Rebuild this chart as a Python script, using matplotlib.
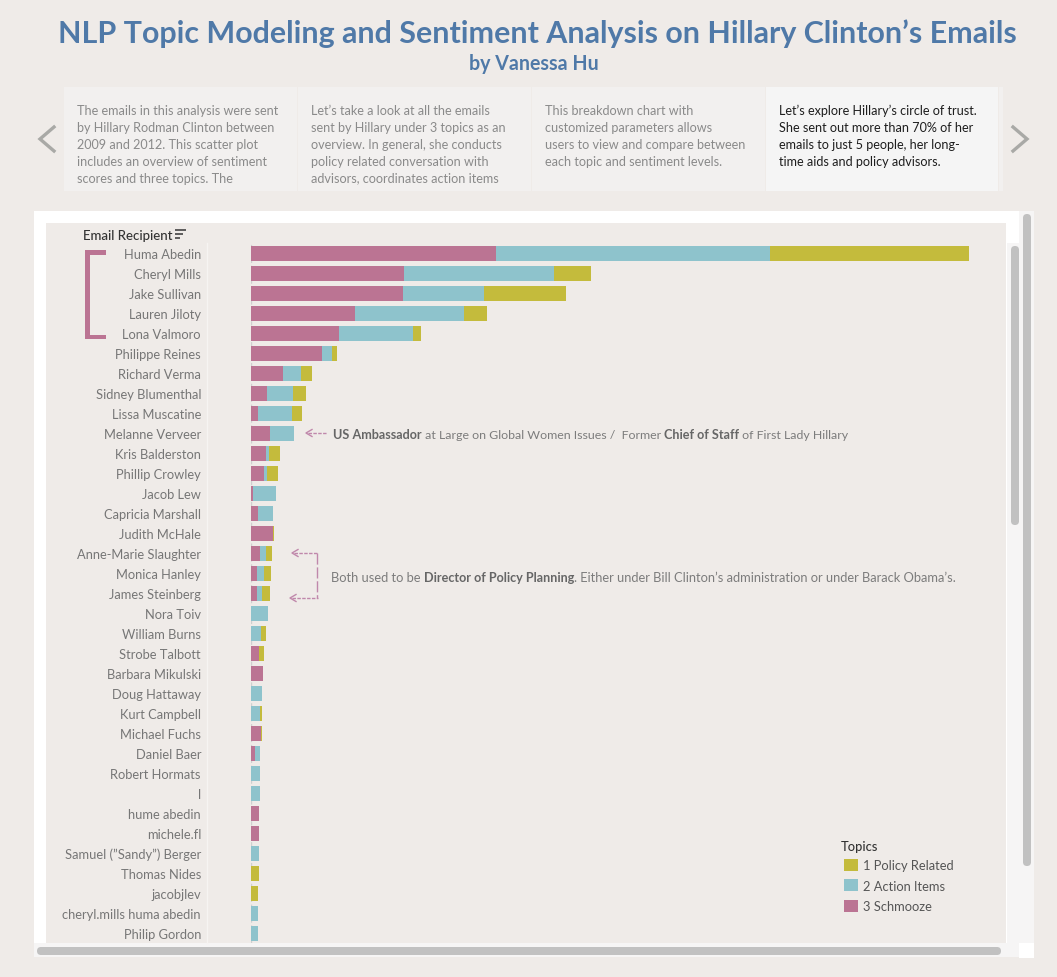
import matplotlib
matplotlib.use("Agg")
import matplotlib.pyplot as plt
from matplotlib.patches import Rectangle, FancyBboxPatch, Patch
from matplotlib.transforms import ScaledTranslation
import numpy as np

recipients = ["Huma Abedin","Cheryl Mills","Jake Sullivan","Lauren Jiloty","Lona Valmoro","Philippe Reines",
 "Richard Verma","Sidney Blumenthal","Lissa Muscatine","Melanne Verveer","Kris Balderston","Phillip Crowley",
 "Jacob Lew","Capricia Marshall","Judith McHale","Anne-Marie Slaughter","Monica Hanley","James Steinberg",
 "Nora Toiv","William Burns","Strobe Talbott","Barbara Mikulski","Doug Hattaway","Kurt Campbell","Michael Fuchs",
 "Daniel Baer","Robert Hormats","l","hume abedin","michele.fl","Samuel (\u201dSandy\u201d) Berger","Thomas Nides",
 "jacobjlev","cheryl.mills huma abedin","Philip Gordon"]
schmooze = [245,153,152,104,88,71,32,16,7,19,15,13,2,7,22,9,6,6,0,0,8,12,0,0,10,4,0,0,8,8,0,0,0,0,0]
action   = [274,150,81,109,74,10,18,26,34,24,3,3,22.5,15,0,6,7,5,16.5,10,0,0,11,9,0,5,9,9,0,0,8,0,0,7,7]
policy   = [199,37,82,23,8,5,11,13,10,0,11,11,0.5,0,1,6,7,8,0.5,5,5,0,0,2,1,0,0,0,0,0,0,8,7,0,0]
topics = ["1 Policy Related","2 Action Items","3 Schmooze"]
title = "NLP Topic Modeling and Sentiment Analysis on Hillary Clinton\u2019s Emails"
subtitle = "by Vanessa Hu"
cards = [
 ["The emails in this analysis were sent","by Hillary Rodman Clinton between","2009 and 2012. This scatter plot","includes an overview of sentiment","scores and three topics. The"],
 ["Let\u2019s take a look at all the emails","sent by Hillary under 3 topics as an","overview. In general, she conducts","policy related conversation with","advisors, coordinates action items"],
 ["This breakdown chart with","customized parameters allows","users to view and compare between","each topic and sentiment levels."],
 ["Let\u2019s explore Hillary\u2019s circle of trust.","She sent out more than 70% of her","emails to just 5 people, her long-","time aids and policy advisors."],
]
note1 = [("US Ambassador",True),(" at Large on Global Women Issues /  Former ",False),("Chief of Staff",True),(" of First Lady Hillary",False)]
note2 = [("Both used to be ",False),("Director of Policy Planning",True),(". Either under Bill Clinton\u2019s administration or under Barack Obama\u2019s.",False)]

BG="#EFEBE8"; PINK="#BB7493"; TEAL="#8EC3CC"; OLIVE="#C4BB3C"; GREY="#767676"; DARK="#333333"; SCROLL="#C1C1C1"; TRACK="#F6F5F5"; ANN="#C088AB"
FONT="Lato"
plt.rcParams['font.family']=[FONT,'DejaVu Sans']
LABEL_FS=9.25

fig=plt.figure(figsize=(10.57,9.78),dpi=100,facecolor=BG)
bg=fig.add_axes([0,0,1,1]); bg.set_xlim(0,1057); bg.set_ylim(978,0); bg.axis("off")

def box(x0,y0,x1,y1,c,z=1):
    bg.add_patch(Rectangle((x0,y0),x1-x0,y1-y0,fc=c,ec="none",zorder=z))
def pill(x0,y0,x1,y1,c=SCROLL):
    r=min(x1-x0,y1-y0)/2
    bg.add_patch(FancyBboxPatch((x0+r,y0+r),x1-x0-2*r,y1-y0-2*r,boxstyle=f"round,pad={r}",fc=c,ec="none",zorder=4))

bg.text(537,43,title,ha="center",va="baseline",fontsize=21.87,fontweight="bold",color="#4F79A8")
bg.text(533.5,70.5,subtitle,ha="center",va="baseline",fontsize=14.15,fontweight="bold",color="#4F79A8")

card_x=[(64,297),(298,531),(532,765),(766,998)]
for i,((a,b),lines) in enumerate(zip(card_x,cards)):
    active=i==3
    r=Rectangle((a,88),b-a,104,fc="#F5F5F5" if active else "#F2F0EF",ec="none",zorder=1)
    bg.add_patch(r)
    clip=Rectangle((a,88),b-a,94.5,transform=bg.transData)
    for j,l in enumerate(lines):
        t=bg.text(a+13,114.6+17*j,l,ha="left",va="baseline",fontsize=9.07,color="#1E1E1E" if active else "#8A8A8A",zorder=2)
        t.set_clip_path(clip)
box(999,88,1003,192,"#F2F0EF")
bg.plot([54,40,54],[128,140,152],color="#A9A9A6",lw=2.4,solid_joinstyle="miter")
bg.plot([1013,1027,1013],[128,140,152],color="#A9A9A6",lw=2.4,solid_joinstyle="miter")

# dashboard panel
box(34,212,1019,944,"#FFFFFF",1)
box(46,224,1006,944,BG,2)
box(1019,212,1034,944,TRACK,2)
box(1007,244,1019,944,TRACK,2)
box(34,944,1019,958,TRACK,2)
box(1019,944,1034,959,"#FFFFFF",2)
pill(1023,215,1031,867)
pill(1011,247,1019,526)
pill(37,948,1001,956)
bg.plot([206.5,206.5],[244,944],color="#F6F4F2",lw=1,zorder=3)

bg.text(83,240,"Email Recipient",ha="left",va="baseline",fontsize=9.5,color=DARK,zorder=5,fontweight="medium")
for k,w in enumerate([11,8,5]):
    bg.plot([175,175+w],[231+4*k]*2,color="#444444",lw=1.2,zorder=5,solid_capstyle="butt")

# bracket
box(85,251,106,255.5,PINK,5); box(85,335.5,106,340,PINK,5); box(85,251,90,340,PINK,5)

# bars
ax=fig.add_axes([251/1057,(978-944)/978,755/1057,700/978])
ax.patch.set_alpha(0); ax.set_zorder(5)
y=np.arange(len(recipients))
s=np.array(schmooze);a_=np.array(action);p=np.array(policy)
ax.axvline(0,color="#CFCFCF",lw=1,ls=(0,(3,2)),zorder=0)
ax.barh(y,s,height=0.75,color=PINK,zorder=2)
ax.barh(y,a_,left=s,height=0.75,color=TEAL,zorder=2)
ax.barh(y,p,left=s+a_,height=0.75,color=OLIVE,zorder=2)
ax.set_xlim(0,755); ax.set_ylim(34.475,-0.525)
ax.set_yticks(y,recipients,fontsize=LABEL_FS,color=GREY)
ax.tick_params(axis="y",length=0,pad=36)
ax.set_xticks([])
for sp in ax.spines.values(): sp.set_visible(False)
down=ScaledTranslation(0,-4.7/100,fig.dpi_scale_trans)
for lab in ax.get_yticklabels():
    lab.set_va("baseline"); lab.set_transform(lab.get_transform()+down)

handles=[Patch(fc=OLIVE,label=topics[0]),Patch(fc=TEAL,label=topics[1]),Patch(fc=PINK,label=topics[2])]
leg=ax.legend(handles=handles,loc="upper left",bbox_to_anchor=(844/1057,1-859.6/978),bbox_transform=fig.transFigure,
    frameon=False,fontsize=LABEL_FS,handlelength=1.09,handleheight=1.09,labelspacing=0.62,handletextpad=0.38,borderpad=0,borderaxespad=0,labelcolor="#555555")
bg.text(841,851,"Topics",ha="left",va="baseline",fontsize=LABEL_FS,color=DARK,zorder=6,fontweight="medium")

# annotations
fig.canvas.draw()
rend=fig.canvas.get_renderer()
def run(x,yy,parts,fs,fb=9.05):
    for txt,bold in parts:
        size=fb if bold else fs
        w_=dict(fontsize=size,fontweight="bold" if bold else "normal",color="#666666" if bold else "#7C7C7C",zorder=6,va="baseline",ha="left")
        bar=bg.text(0,0,"|",**w_); wb=bar.get_window_extent(rend).width; bar.remove()
        m=bg.text(0,0,txt+"|",**w_); wd=m.get_window_extent(rend).width-wb; m.remove()
        bg.text(x,yy,txt,**w_); x+=wd
run(333,439,note1,8.95); run(331,582,note2,9.3)

def arrow(x0,x1,yy):
    bg.plot([x0+2,x1],[yy,yy],color=ANN,lw=1,ls=(0,(2.5,1)),zorder=6)
    bg.plot([x0+6,x0,x0+6],[yy-3.5,yy,yy+3.5],color=ANN,lw=1,zorder=6)
arrow(306,327,434); arrow(292,318,554); arrow(290,318,599)
bg.plot([316.5,316.5],[554,599],color=ANN,lw=1,ls=(0,(8,2)),zorder=6)

fig.savefig("out.png",dpi=100,facecolor=BG)
